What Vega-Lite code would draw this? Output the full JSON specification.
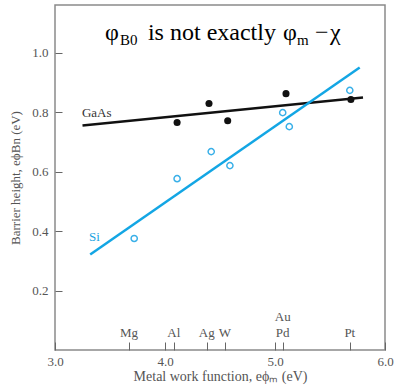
{
  "$schema": "https://vega.github.io/schema/vega-lite/v6.json",
  "width": 330,
  "height": 345,
  "autosize": {"type": "none"},
  "padding": {"left": 55, "top": 5, "right": 10, "bottom": 37},
  "background": "white",
  "config": {
    "view": {"stroke": "#8a8a8a", "strokeWidth": 1.5},
    "font": "Liberation Serif",
    "axis": {
      "labelFont": "Liberation Serif",
      "titleFont": "Liberation Serif",
      "labelFontSize": 13,
      "titleFontSize": 13,
      "labelColor": "#555",
      "titleColor": "#555",
      "titleFontWeight": "normal",
      "tickColor": "#666",
      "tickWidth": 1,
      "domain": false,
      "grid": false,
      "labelFlush": false
    }
  },
  "datasets": {
    "gaas": [
      {"wf": 4.11, "b": 0.765},
      {"wf": 4.40, "b": 0.829},
      {"wf": 4.57, "b": 0.771},
      {"wf": 5.10, "b": 0.862},
      {"wf": 5.69, "b": 0.842}
    ],
    "si": [
      {"wf": 3.72, "b": 0.375},
      {"wf": 4.11, "b": 0.576},
      {"wf": 4.42, "b": 0.667},
      {"wf": 4.59, "b": 0.620},
      {"wf": 5.07, "b": 0.798},
      {"wf": 5.13, "b": 0.751},
      {"wf": 5.68, "b": 0.873}
    ],
    "gaasFit": [
      {"wf": 3.25, "b": 0.755},
      {"wf": 5.80, "b": 0.849}
    ],
    "siFit": [
      {"wf": 3.32, "b": 0.321},
      {"wf": 5.77, "b": 0.950}
    ],
    "seriesLabels": [
      {"label": "GaAs", "wf": 3.245, "b": 0.785},
      {"label": "Si", "wf": 3.31, "b": 0.365}
    ],
    "metals": [
      {"metal": "Mg", "wf": 3.673, "b": 0.045},
      {"metal": "Al", "wf": 4.08, "b": 0.045},
      {"metal": "Ag", "wf": 4.38, "b": 0.045},
      {"metal": "W", "wf": 4.545, "b": 0.045},
      {"metal": "Pd", "wf": 5.07, "b": 0.045},
      {"metal": "Au", "wf": 5.07, "b": 0.099},
      {"metal": "Pt", "wf": 5.68, "b": 0.045}
    ],
    "titleMain": [
      {"t": "φ", "wf": 3.4545, "b": 1.0437},
      {"t": "is not exactly", "wf": 3.845, "b": 1.0437},
      {"t": "φ", "wf": 5.073, "b": 1.0437},
      {"t": "−", "wf": 5.364, "b": 1.0437},
      {"t": "χ", "wf": 5.5, "b": 1.0437}
    ],
    "titleSub": [
      {"t": "B0", "wf": 3.591, "b": 1.0269},
      {"t": "m", "wf": 5.2, "b": 1.0269}
    ]
  },
  "encoding": {
    "x": {
      "field": "wf",
      "type": "quantitative",
      "scale": {"domain": [3, 6], "nice": false, "zero": false},
      "axis": {
        "title": "Metal work function, eϕₘ (eV)",
        "titleFontSize": 14,
        "values": [3, 4, 5, 6, 3.673, 4.08, 4.38, 4.545, 5.07, 5.68],
        "labelExpr": "abs(datum.value - round(datum.value)) < 0.001 ? format(datum.value, '.1f') : ''",
        "tickSize": -8,
        "labelPadding": 13,
        "titlePadding": 1
      }
    },
    "y": {
      "field": "b",
      "type": "quantitative",
      "scale": {"domain": [0, 1.16], "nice": false, "zero": false},
      "axis": {
        "title": "Barrier height, eϕBn (eV)",
        "values": [0.2, 0.4, 0.6, 0.8, 1.0],
        "format": ".1f",
        "tickSize": -7,
        "labelPadding": 14,
        "titlePadding": 9
      }
    }
  },
  "layer": [
    {
      "data": {"name": "gaasFit"},
      "mark": {"type": "line", "color": "#111", "strokeWidth": 2.5}
    },
    {
      "data": {"name": "siFit"},
      "mark": {"type": "line", "color": "#13a6e4", "strokeWidth": 2.5}
    },
    {
      "data": {"name": "gaas"},
      "mark": {"type": "point", "filled": true, "color": "#111", "size": 50, "opacity": 1}
    },
    {
      "data": {"name": "si"},
      "mark": {"type": "point", "filled": false, "color": "#3ab0e8", "size": 38, "strokeWidth": 1.5, "opacity": 1}
    },
    {
      "data": {"name": "seriesLabels"},
      "mark": {"type": "text", "align": "left", "baseline": "alphabetic", "fontSize": 13, "font": "Liberation Serif"},
      "encoding": {
        "text": {"field": "label"},
        "color": {"field": "label", "type": "nominal", "scale": {"domain": ["GaAs", "Si"], "range": ["#333333", "#1aa3e2"]}, "legend": null}
      }
    },
    {
      "data": {"name": "metals"},
      "mark": {"type": "text", "align": "center", "baseline": "alphabetic", "fontSize": 13, "font": "Liberation Serif", "color": "#555"},
      "encoding": {"text": {"field": "metal"}}
    },
    {
      "data": {"name": "titleMain"},
      "mark": {"type": "text", "align": "left", "baseline": "alphabetic", "fontSize": 24, "font": "Liberation Serif", "color": "#000"},
      "encoding": {"text": {"field": "t"}}
    },
    {
      "data": {"name": "titleSub"},
      "mark": {"type": "text", "align": "left", "baseline": "alphabetic", "fontSize": 15, "font": "Liberation Serif", "color": "#000"},
      "encoding": {"text": {"field": "t"}}
    }
  ]
}
